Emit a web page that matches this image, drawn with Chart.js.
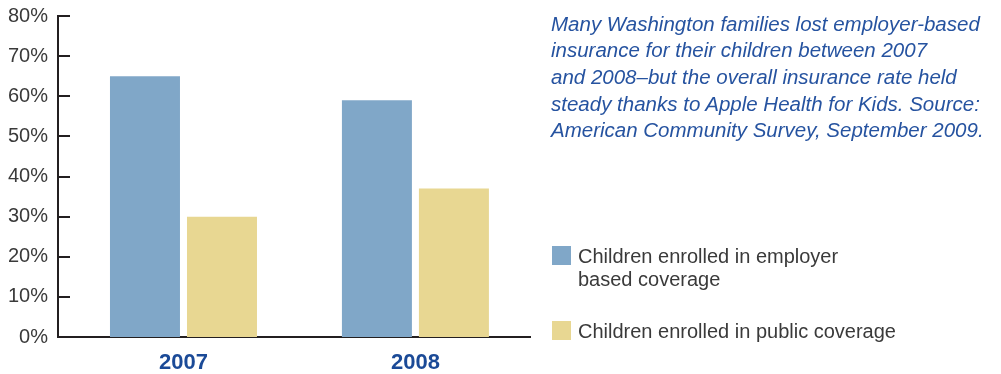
<!DOCTYPE html>
<html>
<head>
<meta charset="utf-8">
<script src="https://cdn.jsdelivr.net/npm/chart.js@4/dist/chart.umd.min.js"></script>
<style>
  html, body { margin: 0; padding: 0; background: #fff; }
  #wrap { position: relative; width: 1001px; height: 374px; overflow: hidden; }
  #myChart { position: absolute; left: 0; top: 0; }
  .caption {
    position: absolute; left: 551px; top: 10.5px;
    font: italic 20.5px "Liberation Sans", Arial, sans-serif;
    line-height: 26.7px; color: #2653a0; white-space: nowrap;
  }
  .legend-item {
    position: absolute; left: 552px;
    font: 20px "Liberation Sans", Arial, sans-serif;
    line-height: 23.5px; color: #3a3a3a; white-space: nowrap;
  }
  .legend-item .box { position: absolute; left: 0; width: 19px; height: 19px; }
  .legend-item .txt { position: absolute; left: 26px; top: 0; }
</style>
</head>
<body>
<div id="wrap">
  <canvas id="myChart" width="1001" height="374"></canvas>
  <div class="caption">
    Many Washington families lost employer-based<br>
    insurance for their children between 2007<br>
    and 2008–but the overall insurance rate held<br>
    steady thanks to Apple Health for Kids. Source:<br>
    American Community Survey, September 2009.
  </div>
  <div id="legend"></div>
</div>

<script>
// Data (percent of children)
const years = ['2007', '2008'];
const employerCoverage = [65, 59];
const publicCoverage = [30, 37];
const yTicks = [0, 10, 20, 30, 40, 50, 60, 70, 80];

const seriesNames = [
  ['Children enrolled in employer', 'based coverage'],
  ['Children enrolled in public coverage']
];
const seriesColors = ['#80a7c8', '#e8d792'];

// Legend built by hand, the original has a wrapped label
const legendTops = [244.6, 319.6];
const legendDiv = document.getElementById('legend');
seriesNames.forEach((lines, i) => {
    const item = document.createElement('div');
    item.className = 'legend-item';
    item.style.top = legendTops[i] + 'px';
    item.innerHTML = `<div class="box" style="background:${seriesColors[i]};top:1.5px"></div>` +
        `<div class="txt">${lines.join('<br>')}</div>`;
    legendDiv.appendChild(item);
});

// Short tick marks pointing into the plot from the y axis
const innerTicks = {
    id: 'innerTicks',
    afterDraw(chart) {
        const y = chart.scales.y;
        const ctx = chart.ctx;
        const left = chart.chartArea.left;
        ctx.save();
        ctx.strokeStyle = '#231f20';
        ctx.lineWidth = 2;
        y.ticks.forEach(t => {
            if (t.value === 0) return;
            const py = Math.round(y.getPixelForValue(t.value));
            ctx.beginPath();
            ctx.moveTo(left, py);
            ctx.lineTo(left + 12, py);
            ctx.stroke();
        });
        ctx.restore();
    }
};

const ctx = document.getElementById('myChart').getContext('2d');
const chart = new Chart(ctx, {
    type: 'bar',
    data: {
        labels: years,
        datasets: [{
            label: seriesNames[0].join(' '),
            data: employerCoverage,
            backgroundColor: seriesColors[0]
        }, {
            label: seriesNames[1].join(' '),
            data: publicCoverage,
            backgroundColor: seriesColors[1]
        }]
    },
    options: {
        responsive: false,
        animation: false,
        events: [],
        categoryPercentage: 0.664,
        barPercentage: 0.909,
        layout: { padding: { top: 16, right: 471, left: 0, bottom: 0 } },
        plugins: { legend: { display: false }, tooltip: { enabled: false } },
        scales: {
            x: {
                // linear axis so the bars can sit off-centre like the original
                type: 'linear',
                offset: false,
                bounds: 'data',
                min: 2006.459,
                max: 2008.494,
                afterBuildTicks: (scale) => {
                    scale.ticks = years.map(v => ({ value: +v }));
                },
                afterFit: (scale) => { scale.height = 37; },
                grid: { display: false, drawTicks: false },
                border: { display: true, color: '#231f20', width: 2 },
                ticks: {
                    padding: 13,
                    color: '#1b4a97',
                    font: { family: '"Liberation Sans", Arial, sans-serif', size: 22, weight: 'bold' },
                    callback: (value) => String(value)
                }
            },
            y: {
                min: 0,
                max: 80,
                afterBuildTicks: (scale) => {
                    scale.ticks = yTicks.map(v => ({ value: v }));
                },
                afterFit: (scale) => {
                    scale.width = 58;
                    // don't let the label overflow push the plot down
                    scale.paddingTop = 0;
                    scale.paddingBottom = 0;
                },
                grid: { display: false, drawTicks: false },
                border: { display: true, color: '#231f20', width: 2 },
                ticks: {
                    padding: 10,
                    color: '#3a3a3a',
                    font: { family: '"Liberation Sans", Arial, sans-serif', size: 20 },
                    callback: (value) => value + '%'
                }
            }
        }
    },
    plugins: [innerTicks]
});
</script>
</body>
</html>
